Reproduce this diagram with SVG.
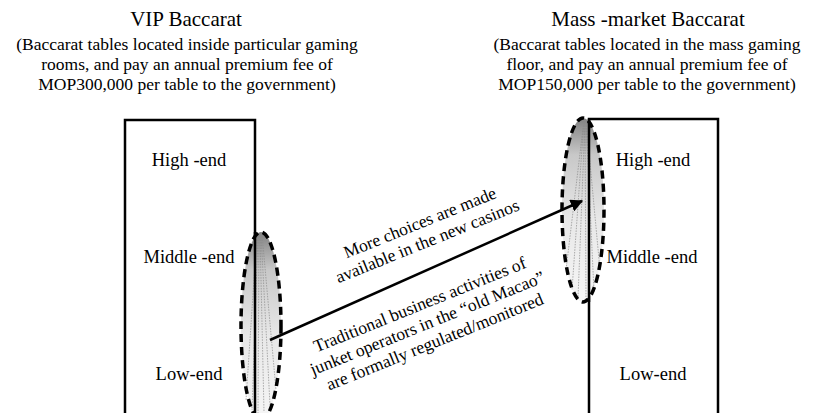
<svg xmlns="http://www.w3.org/2000/svg" width="815" height="413" viewBox="0 0 815 413">
<style>
  text { font-family: "Liberation Serif", "Times New Roman", serif; fill: #000; }
  .title { font-size: 21px; text-anchor: middle; }
  .sub { font-size: 17.5px; text-anchor: middle; }
  .lbl { font-size: 18.5px; text-anchor: middle; }
  .rot { font-size: 17.5px; text-anchor: middle; }
  .box { fill: none; stroke: #000; stroke-width: 2.5; }
  .oval { stroke: #000; stroke-width: 3.5; stroke-dasharray: 8 5; }
  .streak { stroke: #8a8a8a; stroke-width: 0.7; stroke-dasharray: 1.5 1.2; fill: none; }
  .conn { stroke: #000; stroke-width: 2.5; fill: none; }
</style>
<defs>
  <linearGradient id="shade" x1="0" y1="0" x2="0" y2="1">
    <stop offset="0" stop-color="#808080"/>
    <stop offset="0.2" stop-color="#c8c8c8"/>
    <stop offset="0.55" stop-color="#e8e8e8"/>
    <stop offset="1" stop-color="#f6f6f6"/>
  </linearGradient>
  <marker id="arr" viewBox="0 0 10 10" refX="9" refY="5" markerWidth="5" markerHeight="5" orient="auto" markerUnits="strokeWidth">
    <path d="M0,0 L10,5 L0,10 z" fill="#000"/>
  </marker>
</defs>
<rect width="815" height="413" fill="#fff"/>

<g id="vip-header">
  <text class="title" x="186" y="26">VIP Baccarat</text>
  <text class="sub" x="187" y="50">(Baccarat tables located inside particular gaming</text>
  <text class="sub" x="187" y="70">rooms, and pay an annual premium fee of</text>
  <text class="sub" x="187" y="90">MOP300,000 per table to the government)</text>
</g>

<g id="mass-header">
  <text class="title" x="648" y="26">Mass -market Baccarat</text>
  <text class="sub" x="647" y="50">(Baccarat tables located in the mass gaming</text>
  <text class="sub" x="647" y="70">floor, and pay an annual premium fee of</text>
  <text class="sub" x="647" y="90">MOP150,000 per table to the government)</text>
</g>

<g id="vip-box">
  <path class="box" d="M125,420 L125,120 L255,120 L255,420"/>
  <text class="lbl" x="189" y="166">High -end</text>
  <text class="lbl" x="189" y="263">Middle -end</text>
  <text class="lbl" x="189" y="380">Low-end</text>
</g>

<g id="mass-box">
  <path class="box" d="M589,420 L589,119 L718,119 L718,420"/>
  <text class="lbl" x="653" y="166">High -end</text>
  <text class="lbl" x="652" y="263">Middle -end</text>
  <text class="lbl" x="653" y="380">Low-end</text>
</g>

<g id="vip-oval">
  <ellipse cx="261" cy="326" rx="20" ry="94" fill="url(#shade)"/>
  <path class="streak" d="M257,234 L246,400 M258,234 L252,410 M259,234 L258,415 M260,234 L264,412 M261,234 L270,405 M262,234 L276,390"/>
  <line x1="255" y1="232" x2="255" y2="413" stroke="#000" stroke-width="2.5"/>
  <ellipse class="oval" cx="261" cy="326" rx="20" ry="94" fill="none"/>
</g>

<g id="mass-oval">
  <ellipse cx="583" cy="210" rx="21" ry="92" fill="url(#shade)"/>
  <path class="streak" d="M584,120 L566,270 M584,120 L572,290 M585,120 L578,298 M585,120 L586,300 M586,120 L594,292 M586,120 L600,270"/>
  <line x1="589" y1="119" x2="589" y2="302" stroke="#000" stroke-width="2.5"/>
  <ellipse class="oval" cx="583" cy="210" rx="21" ry="92" fill="none"/>
</g>

<g id="connectors">
  <line class="conn" x1="270" y1="340" x2="582" y2="201" marker-end="url(#arr)"/>
</g>

<g id="arrow-labels">
  <g transform="translate(422,228) rotate(-22)">
    <text class="rot" x="0" y="0">More choices are made</text>
    <text class="rot" x="0" y="20">available in the new casinos</text>
  </g>
  <g transform="translate(422,310) rotate(-22)">
    <text class="rot" x="0" y="0">Traditional business activities of</text>
    <text class="rot" x="0" y="20">junket operators in the “old Macao”</text>
    <text class="rot" x="0" y="40">are formally regulated/monitored</text>
  </g>
</g>
</svg>
